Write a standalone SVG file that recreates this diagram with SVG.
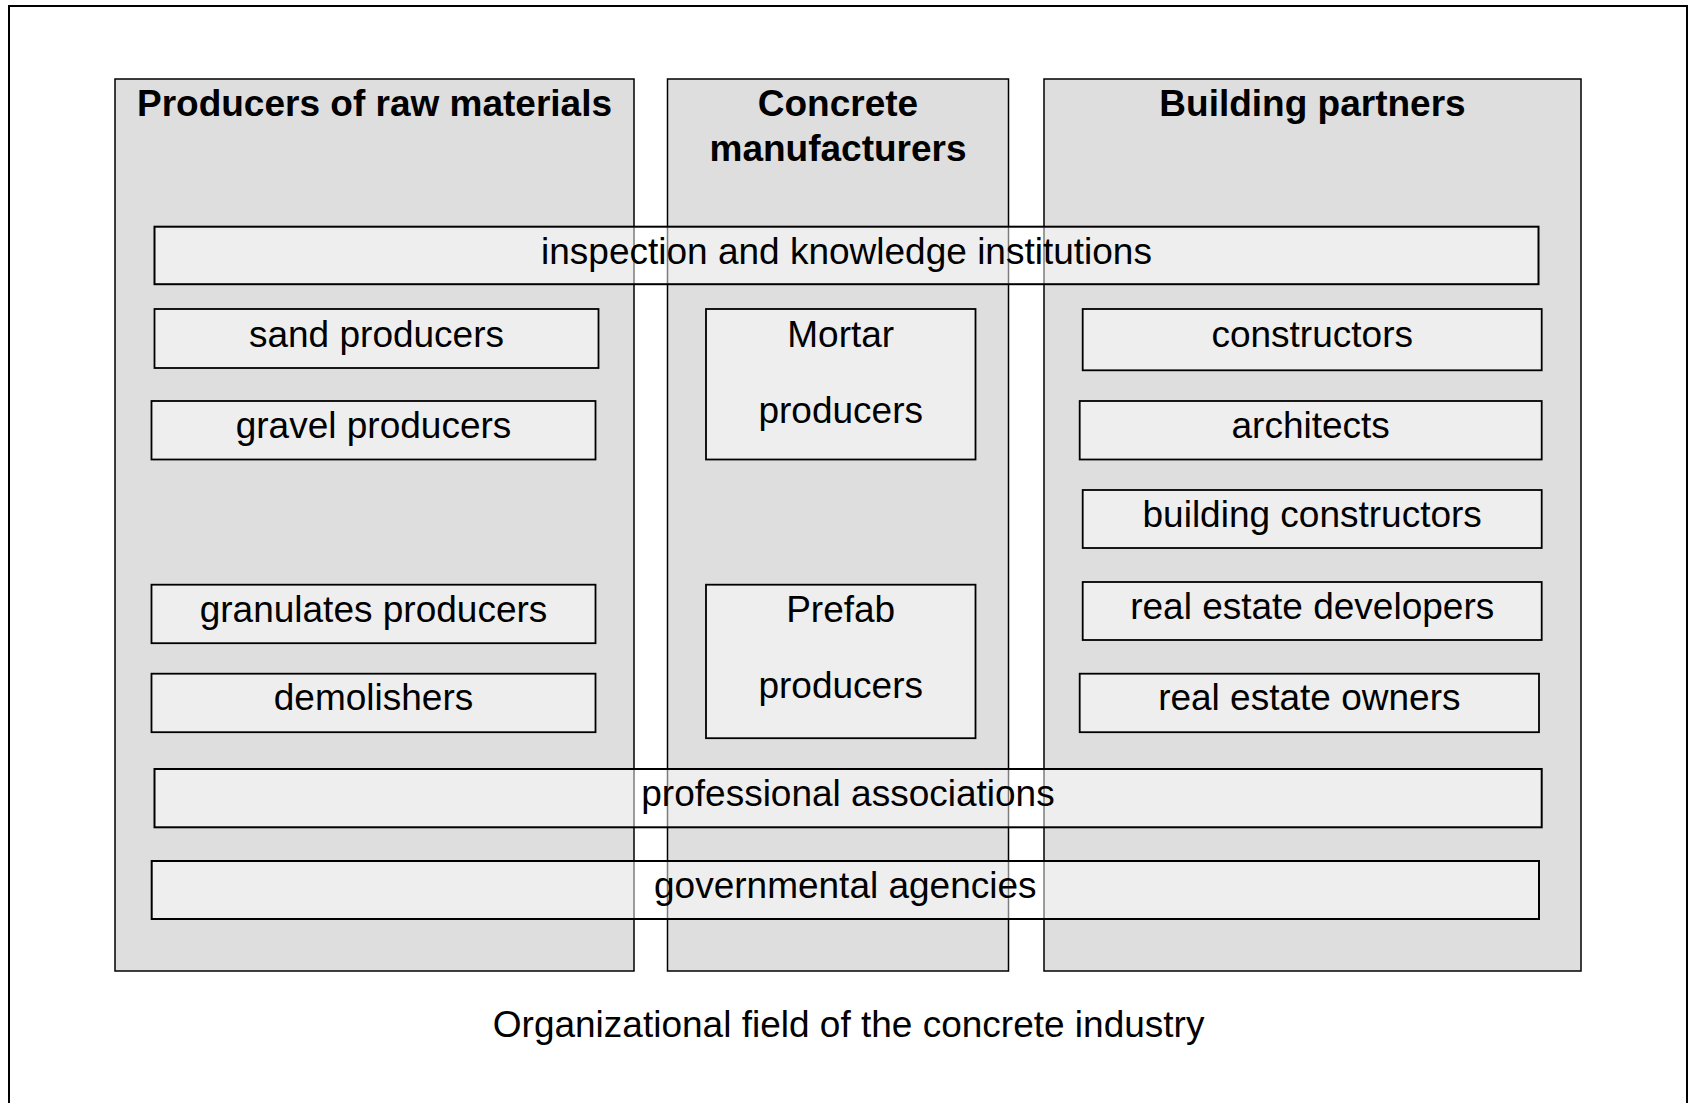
<svg xmlns="http://www.w3.org/2000/svg" width="1694" height="1103" viewBox="0 0 1694 1103">
<style>
text{font-family:"Liberation Sans",Arial,sans-serif;fill:#000;text-anchor:middle}
.hdr{font-size:37px;font-weight:bold}
.lbl{font-size:37px}
.col{fill:#dedede;stroke:#000;stroke-width:1.5}
.box{fill:#eeeeee;stroke:#000;stroke-width:1.8}
.bar{fill:#fff;fill-opacity:0.49;stroke:#000;stroke-width:2}
</style>
<rect x="0" y="0" width="1694" height="1103" fill="#fff"/>
<rect id="frame" x="9" y="6" width="1678" height="1120" fill="none" stroke="#000" stroke-width="2"/>
<g id="col-raw">
<rect class="col" x="115" y="79" width="519" height="892"/>
<text class="hdr" x="374.5" y="116">Producers of raw materials</text>
</g>
<g id="col-concrete">
<rect class="col" x="667.5" y="79" width="341" height="892"/>
<text class="hdr" x="838" y="115.5">Concrete</text>
<text class="hdr" x="838" y="160.5">manufacturers</text>
</g>
<g id="col-building">
<rect class="col" x="1044" y="79" width="537" height="892"/>
<text class="hdr" x="1312.5" y="115.5">Building partners</text>
</g>
<g id="sand"><rect class="box" x="154.5" y="309" width="444" height="59"/><text class="lbl" x="376.5" y="346.5">sand producers</text></g>
<g id="gravel"><rect class="box" x="151.5" y="401" width="444" height="58.5"/><text class="lbl" x="373.5" y="438">gravel producers</text></g>
<g id="granulates"><rect class="box" x="151.5" y="584.7" width="444" height="58.5"/><text class="lbl" x="373.5" y="622">granulates producers</text></g>
<g id="demolishers"><rect class="box" x="151.5" y="673.7" width="444" height="58.5"/><text class="lbl" x="373.5" y="709.5">demolishers</text></g>
<g id="mortar"><rect class="box" x="706" y="309" width="269.5" height="150.5"/><text class="lbl" x="840.7" y="347">Mortar</text><text class="lbl" x="840.7" y="423">producers</text></g>
<g id="prefab"><rect class="box" x="706" y="584.7" width="269.5" height="153.5"/><text class="lbl" x="840.7" y="622">Prefab</text><text class="lbl" x="840.7" y="698">producers</text></g>
<g id="constructors"><rect class="box" x="1082.7" y="309" width="459" height="61.3"/><text class="lbl" x="1312.2" y="346.5">constructors</text></g>
<g id="architects"><rect class="box" x="1079.7" y="401" width="462" height="58.5"/><text class="lbl" x="1310.7" y="438">architects</text></g>
<g id="building-constructors"><rect class="box" x="1082.7" y="490" width="459" height="58"/><text class="lbl" x="1312.2" y="527">building constructors</text></g>
<g id="developers"><rect class="box" x="1082.7" y="582" width="459" height="58"/><text class="lbl" x="1312.2" y="619">real estate developers</text></g>
<g id="owners"><rect class="box" x="1079.7" y="673.7" width="459.3" height="58.5"/><text class="lbl" x="1309.3" y="709.5">real estate owners</text></g>
<g id="inspection"><rect class="bar" x="154.5" y="226.7" width="1384" height="57.5"/><text class="lbl" x="846.5" y="263.7">inspection and knowledge institutions</text></g>
<g id="professional"><rect class="bar" x="154.5" y="769" width="1387.2" height="58.3"/><text class="lbl" x="848" y="806">professional associations</text></g>
<g id="governmental"><rect class="bar" x="151.7" y="861" width="1387.3" height="58"/><text class="lbl" x="845.3" y="897.7">governmental agencies</text></g>
<g id="connectors"></g>
<text class="lbl" x="848.6" y="1037">Organizational field of the concrete industry</text>
</svg>
